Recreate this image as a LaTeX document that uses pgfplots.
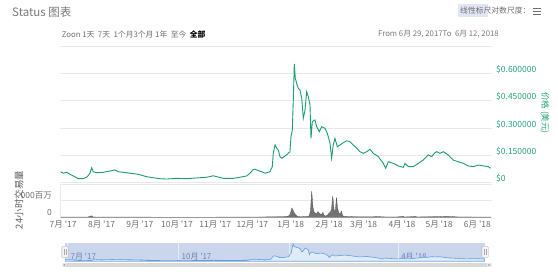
\documentclass[border=0pt]{standalone}
\usepackage{pgfplots}
\pgfplotsset{compat=1.18}
\usepackage{pgfplotstable}
\usetikzlibrary{calc}
\usepackage{fontspec}
\newfontfamily\cjk{Noto Sans CJK SC}
\definecolor{pricegreen}{RGB}{25,155,115}
\definecolor{labelgreen}{RGB}{40,160,125}
\definecolor{textgray}{RGB}{110,110,110}
\definecolor{titlegray}{RGB}{120,120,120}
\definecolor{gridgray}{RGB}{232,232,232}
\definecolor{volfill}{RGB}{115,115,115}
\definecolor{voldraw}{RGB}{85,85,85}
\definecolor{navfill}{RGB}{203,213,236}
\definecolor{navline}{RGB}{95,160,220}
\definecolor{navtext}{RGB}{105,130,185}

\pgfplotstableread{
d p
-2 0.060
0.1 0.052
2.8 0.057
5.5 0.046
8.2 0.037
12.2 0.022
16.3 0.022
19.5 0.033
21.7 0.052
23.0 0.082
24.3 0.060
27.1 0.055
32.4 0.057
37.8 0.064
41.9 0.070
44.6 0.060
48.6 0.057
54.0 0.052
60.7 0.046
64.8 0.038
67.5 0.033
72.9 0.027
78.3 0.022
83.7 0.020
91.8 0.024
99.9 0.022
108.0 0.026
116.1 0.030
121.4 0.038
124.1 0.033
129.5 0.024
137.6 0.024
143.0 0.030
148.4 0.037
151.1 0.052
153.3 0.070
155.1 0.074
157.8 0.066
160.5 0.060
163.2 0.052
167.2 0.060
169.1 0.088
169.9 0.161
171.3 0.207
172.7 0.189
174.0 0.179
175.3 0.143
176.7 0.134
179.4 0.146
182.0 0.161
183.4 0.170
184.2 0.252
185.3 0.289
186.1 0.454
186.9 0.651
187.7 0.573
188.8 0.545
190.1 0.518
191.5 0.508
192.9 0.463
194.2 0.353
195.6 0.399
196.9 0.499
198.2 0.472
199.6 0.426
200.4 0.243
201.5 0.335
203.6 0.344
205.0 0.307
207.1 0.280
209.1 0.307
211.7 0.298
213.6 0.271
215.8 0.216
217.1 0.134
218.4 0.207
219.8 0.243
221.7 0.197
223.9 0.207
226.5 0.219
229.3 0.230
231.9 0.225
234.6 0.207
237.4 0.189
240.0 0.170
242.7 0.161
245.5 0.170
248.1 0.183
250.8 0.161
254.8 0.143
258.9 0.106
260.8 0.079
262.9 0.115
267.0 0.106
271.0 0.092
275.0 0.084
276.4 0.106
279.1 0.088
283.1 0.088
287.2 0.106
291.2 0.124
295.3 0.152
298.0 0.143
300.7 0.165
302.1 0.170
304.7 0.161
307.4 0.170
311.4 0.152
315.5 0.124
319.5 0.115
323.6 0.106
327.6 0.092
331.7 0.088
335.7 0.097
339.7 0.092
343.8 0.088
345.7 0.079
}\price

\pgfplotstableread{
d v
-2 15
20 15
22 70
23 90
24 20
30 15
40 10
100 8
150 10
160 20
170 30
180 40
183 100
184 300
185 560
186 400
187 250
188 150
189 80
190 50
195 40
198 60
199 100
200 400
201 1580
202 600
203 300
204 250
205 200
206 350
207 250
208 200
209 150
210 300
211 120
212 80
213 100
214 150
215 250
216 300
217 500
218 1280
219 500
220 300
221 1200
222 500
223 250
224 200
225 380
226 100
227 60
230 50
235 35
240 30
250 30
256 50
257 25
270 20
275 60
276 20
280 30
285 60
286 20
300 40
302 50
305 40
310 60
315 40
320 20
346 15
}\volume

\begin{document}
\cjk
\begin{tikzpicture}
\path[use as bounding box] (0,0) rectangle (558pt,276pt);

% price panel
\begin{axis}[
  at={(60pt,93.3pt)}, anchor=south west, scale only axis,
  width=432pt, height=136.8pt,
  xmin=-2.59, xmax=346.8, ymin=0, ymax=0.75,
  axis line style={draw=none}, xtick=\empty,
  ytick={0,0.15,0.3,0.45,0.6,0.75},
  yticklabels={\$0,\$0.150000,\$0.300000,\$0.450000,\$0.600000,{}},
  yticklabel pos=right,
  ymajorgrids, major grid style={gridgray, line width=0.6pt},
  major tick length=0pt,
  yticklabel style={font=\fontsize{8.5}{10}\selectfont, text=labelgreen, anchor=west, inner sep=0pt, xshift=4pt, yshift=4pt},
]
\addplot[pricegreen, line width=0.9pt] table[x=d,y=p]{\price};
\end{axis}

% volume panel
\begin{axis}[
  at={(60pt,58.7pt)}, anchor=south west, scale only axis,
  width=432pt, height=33.3pt,
  xmin=-2.59, xmax=346.8, ymin=0, ymax=2000,
  axis line style={draw=none},
  ytick={0,1000,2000}, yticklabels={0,000百万,{}},
  ymajorgrids, major grid style={gridgray, line width=0.6pt},
  major tick length=0pt,
  yticklabel style={font=\fontsize{8.5}{10}\selectfont, text=textgray, anchor=east, inner sep=0pt, xshift=-8pt, yshift=5pt},
  xtick={0,31,62,92,123,153,184,215,243,274,304,335},
  xticklabels={7月 '17,8月 '17,9月 '17,10月 '17,11月 '17,12月 '17,1月 '18,2月 '18,3月 '18,4月 '18,5月 '18,6月 '18},
  xticklabel style={font=\fontsize{8.5}{10}\selectfont, text=textgray, anchor=center, inner sep=0pt, yshift=-7pt},
]
\addplot[draw=voldraw, fill=volfill, line width=0.3pt] table[x=d,y=v]{\volume} \closedcycle;
\end{axis}
\draw[gridgray, line width=0.6pt] (60pt,58.7pt) -- (60pt,92pt);

% navigator
\begin{axis}[
  at={(65pt,14.3pt)}, anchor=south west, scale only axis,
  width=420pt, height=18.4pt,
  xmin=-2, xmax=346, ymin=-0.02, ymax=0.68,
  axis line style={draw=none}, ytick=\empty,
  axis background/.style={fill=navfill},
  xtick={0,92,184,274},
  xticklabels={7月 '17,10月 '17,1月 '18,4月 '18},
  xmajorgrids, major grid style={white!55!navfill, line width=0.6pt},
  major tick length=0pt,
  xticklabel style={font=\fontsize{8}{9}\selectfont, text=navtext, anchor=south west, inner sep=0pt, xshift=3pt, yshift=1.5pt},
]
\addplot[draw=navline, fill=navline!20, line width=0.6pt] table[x=d,y=p]{\price} \closedcycle;
\end{axis}

% navigator handles
\foreach \hx in {65,485}{
  \filldraw[fill=gray!8, draw=gray!70, line width=0.4pt, rounded corners=0.8pt] (\hx pt-3.2pt,18.5pt) rectangle (\hx pt+3.2pt,29.5pt);
  \draw[gray!70, line width=0.35pt] (\hx pt-0.9pt,21pt) -- (\hx pt-0.9pt,27pt);
  \draw[gray!70, line width=0.35pt] (\hx pt+0.9pt,21pt) -- (\hx pt+0.9pt,27pt);
}
% scrollbar
\fill[gray!30] (61.7pt,8.7pt) rectangle (491.7pt,13.3pt);
\fill[gray!15] (61.7pt,8.7pt) rectangle (66.3pt,13.3pt);
\fill[gray!15] (487.1pt,8.7pt) rectangle (491.7pt,13.3pt);
\fill[gray!70] (63pt,11pt) -- (65pt,12.3pt) -- (65pt,9.7pt) -- cycle;
\fill[gray!70] (490.4pt,11pt) -- (488.4pt,12.3pt) -- (488.4pt,9.7pt) -- cycle;

% titles and controls
\node[anchor=west, inner sep=0pt, text=titlegray, font=\fontsize{11.5}{13}\selectfont] at (12pt,263.7pt) {Status 图表};
\node[anchor=west, inner sep=0pt, text=textgray, font=\fontsize{7.8}{9}\selectfont] at (61.7pt,241.7pt) {Zoon 1天\ \ 7天\ \ 1个月3个月\ 1年\ \ 至今\ \ \textcolor{black}{\textbf{全部}}};
\node[anchor=east, inner sep=0pt, text=titlegray, font=\fontsize{7.8}{9}\selectfont] at (499pt,242pt) {From 6月 29, 2017To\ \ 6月 12, 2018};
\fill[navfill!60] (458pt,259pt) rectangle (488pt,272pt);
\node[anchor=west, inner sep=0pt, text=textgray, font=\fontsize{7.8}{9}\selectfont] at (460pt,265.3pt) {线性标尺对数尺度：};
\foreach \yy in {262,265,268}{\draw[textgray, line width=0.9pt] (533pt,\yy pt) -- (541pt,\yy pt);}

% axis titles
\node[rotate=-90, inner sep=0pt, text=labelgreen, font=\fontsize{8.5}{10}\selectfont] at (545pt,163pt) {价格 (美元)};
\node[rotate=90, inner sep=0pt, text=textgray!85!black, font=\fontsize{9.5}{11}\selectfont] at (19pt,76pt) {24小时交易量};
\end{tikzpicture}
\end{document}
